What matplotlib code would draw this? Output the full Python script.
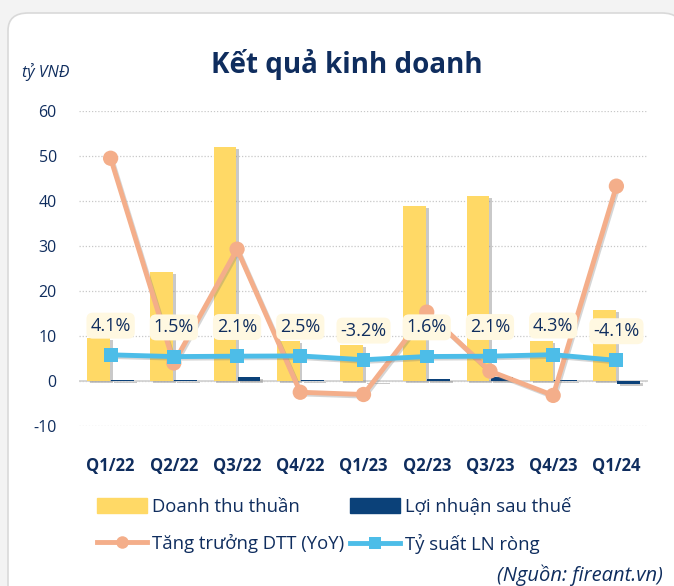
import matplotlib
matplotlib.use("Agg")
import matplotlib.pyplot as plt
import matplotlib.patheffects as pe
from matplotlib.patches import FancyBboxPatch
from matplotlib.lines import Line2D
from matplotlib.patches import Patch
import numpy as np

# ---------------- DATA ----------------
quarters = ["Q1/22", "Q2/22", "Q3/22", "Q4/22", "Q1/23", "Q2/23", "Q3/23", "Q4/23", "Q1/24"]
revenue = [9.5, 24.2, 52.0, 8.8, 8.0, 39.0, 41.2, 9.0, 15.8]        # ty VND
profit = [0.3, 0.3, 1.0, 0.2, -0.1, 0.5, 0.8, 0.3, -0.6]            # ty VND
growth = [49.5, 4.0, 29.3, -2.5, -3.0, 15.3, 2.2, -3.2, 43.3]       # plotted on main axis
margin = [4.1, 1.5, 2.1, 2.5, -3.2, 1.6, 2.1, 4.3, -4.1]            # %, secondary axis

NAVY = "#0F2D5E"
YELLOW = "#FFD966"
DARKBLUE = "#0B4179"
ORANGE = "#F4AE8A"
BLUE = "#4DBDE8"

plt.rcParams["font.family"] = ["Open Sans", "DejaVu Sans"]
plt.rcParams["axes.unicode_minus"] = False

fig = plt.figure(figsize=(6.74, 5.86), dpi=100)
fig.patch.set_facecolor("#F3F3F3")

# card background
card = FancyBboxPatch((8 / 674, -0.1), 1.0, 1 - 13 / 586 + 0.1,
                      boxstyle="round,pad=0,rounding_size=0.03",
                      transform=fig.transFigure, fc="white", ec="#D9D9D9", lw=1.2, zorder=-5,
                      path_effects=[pe.SimplePatchShadow(offset=(0, 0), shadow_rgbFace="#BBBBBB", alpha=0.6),
                                    pe.Normal()])
fig.patches.append(card)

ax = fig.add_axes([79 / 674, 1 - 426 / 586, (648 - 79) / 674, (426 - 111) / 586])
ax.set_facecolor("none")
x = np.arange(len(quarters))
w = 0.36

shadow = [pe.SimplePatchShadow(offset=(2, -1.5), shadow_rgbFace="#888888", alpha=0.45), pe.Normal()]
ax.bar(x - w / 2 - 0.01, revenue, w, color=YELLOW, zorder=2, path_effects=shadow)
ax.bar(x + w / 2 + 0.01, profit, w, color=DARKBLUE, zorder=2, path_effects=shadow)

lshadow = [pe.SimpleLineShadow(offset=(1, -1.2), shadow_color="#777777", alpha=0.3), pe.Normal()]
ax.plot(x, growth, color=ORANGE, lw=3.5, marker="o", ms=11, mew=0, zorder=3, path_effects=lshadow)

ax.set_xlim(-0.5, len(quarters) - 0.5)
ax.set_ylim(-10, 60)
ax.set_yticks(range(-10, 61, 10))
ax.yaxis.grid(True, linestyle=(0, (1, 1.5)), color="#C8C8C8", lw=0.9)
ax.set_axisbelow(True)
ax.axhline(0, color="#D0D0D0", lw=1.2, zorder=1)
for s in ax.spines.values():
    s.set_visible(False)
ax.tick_params(length=0)
ax.set_xticks(x)
ax.set_xticklabels(quarters, fontsize=12, fontweight="bold", color=NAVY)
ax.tick_params(axis="x", pad=22)
ax.tick_params(axis="y", pad=16, labelsize=11.5, labelcolor=NAVY)

# margin on a hidden secondary axis
ax2 = ax.twinx()
a, b = 5.2, 0.15
ax2.set_ylim((-10 - a) / b, (60 - a) / b)
ax2.axis("off")
ax2.plot(x, margin, color=BLUE, lw=3.5, marker="s", ms=10, mew=0, zorder=4, path_effects=lshadow)
for xi, m in zip(x, margin):
    ax2.annotate(f"{m:.1f}%", (xi, m), xytext=(0, 21), textcoords="offset points",
                 ha="center", va="center", fontsize=13, color=NAVY, zorder=5,
                 bbox=dict(boxstyle="round,pad=0.22,rounding_size=0.35", fc="#FFF8E1", ec="none"))

fig.text(347 / 674, 1 - 64 / 586, "Kết quả kinh doanh", ha="center", va="center",
         fontsize=20, fontweight="bold", color=NAVY)
fig.text(22 / 674, 1 - 72 / 586, "tỷ VNĐ", ha="left", va="center",
         fontsize=11.5, style="italic", color=NAVY)

# legend filled column-wise, so order handles to read row by row
handles = [Patch(color=YELLOW),
           Line2D([], [], color=ORANGE, lw=3.5, marker="o", ms=9, mew=0),
           Patch(color=DARKBLUE),
           Line2D([], [], color=BLUE, lw=3.5, marker="s", ms=8, mew=0)]
labels = ["Doanh thu thuần", "Tăng trưởng DTT (YoY)", "Lợi nhuận sau thuế", "Tỷ suất LN ròng"]
fig.legend(handles, labels, ncol=2, loc="upper left", bbox_to_anchor=(80 / 674, 1 - 481 / 586),
           frameon=False, fontsize=13.3, labelcolor=NAVY, handlelength=2.7, handleheight=0.9,
           handletextpad=0.3, columnspacing=0.3, labelspacing=1.0)

fig.text(497 / 674, 1 - 575 / 586, "(Nguồn: fireant.vn)", ha="left", va="center",
         fontsize=14.5, style="italic", color=NAVY)

fig.savefig("out.png", dpi=100, facecolor=fig.get_facecolor())
